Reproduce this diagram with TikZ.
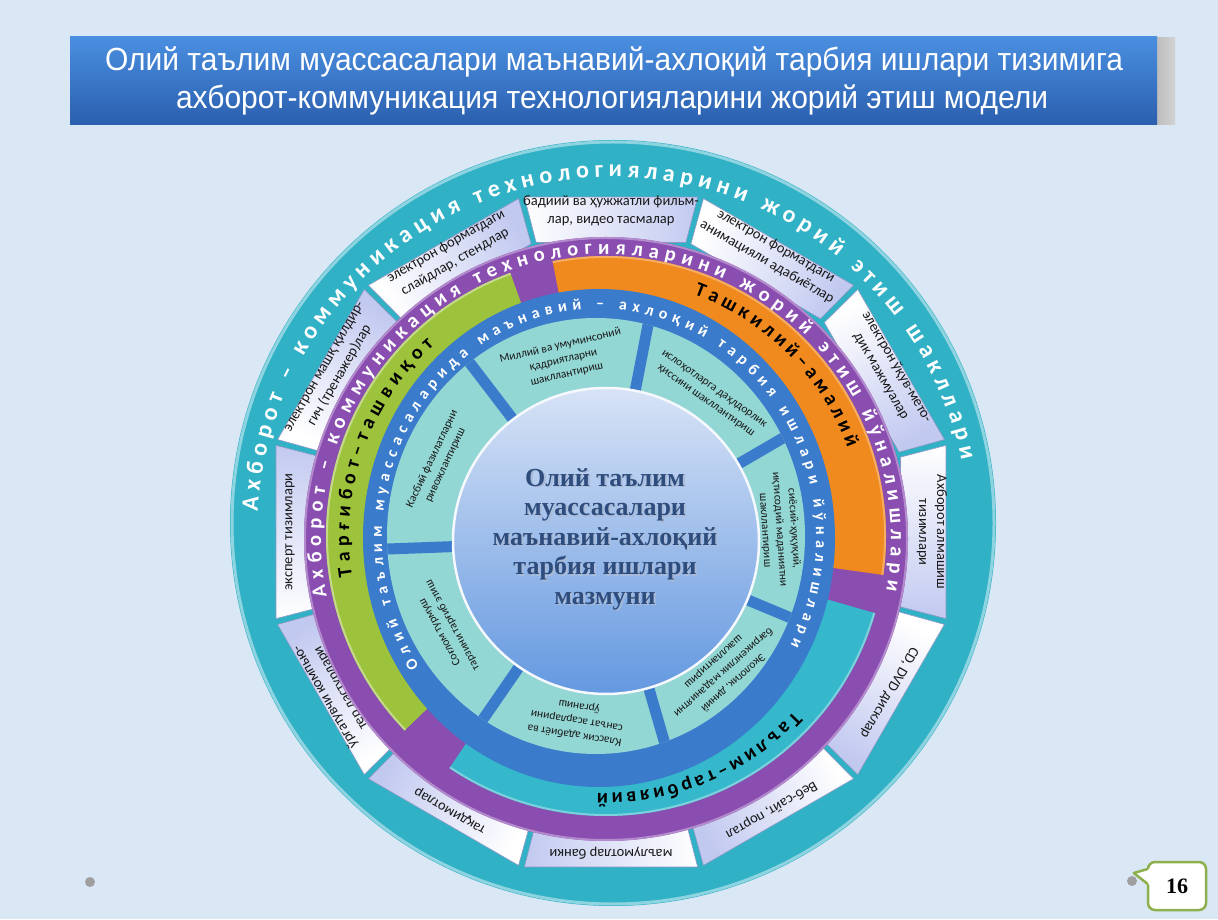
\documentclass[tikz,border=0pt]{standalone}
\usepackage{fontspec}
\setmainfont{Carlito}
\newfontfamily\titlefont{Liberation Sans}
\newfontfamily\serifbold{Liberation Serif}
\usetikzlibrary{decorations.text,calc}
\definecolor{bgc}{HTML}{DAE7F4}
\definecolor{tealO}{HTML}{31B1C6}
\definecolor{purp}{HTML}{8A4DB0}
\definecolor{grn}{HTML}{9DC23B}
\definecolor{orng}{HTML}{F08A1E}
\definecolor{tealB}{HTML}{35B8CB}
\definecolor{blu}{HTML}{3B7BCB}
\definecolor{segc}{HTML}{93D7D4}
\definecolor{ctrT}{HTML}{D8E3F6}
\definecolor{ctrB}{HTML}{6398E0}
\definecolor{boxlav}{HTML}{C2C9F0}
\definecolor{boxedge}{HTML}{8F98C4}
\definecolor{ttlT}{HTML}{4A8EE0}
\definecolor{ttlB}{HTML}{2B5FAE}
\definecolor{ctrtext}{HTML}{2E4C7C}
\definecolor{ctrshadow}{HTML}{A9BBD8}
\definecolor{pgreen}{HTML}{8DB04C}
\newcommand\outerfont{\fontsize{24}{24}\selectfont\bfseries\color{white}}
\newcommand\purpfont{\fontsize{20.5}{20.5}\selectfont\bfseries\color{white}}
\newcommand\bluefont{\fontsize{16}{16}\selectfont\bfseries\color{white}}
\newcommand\bandfont{\fontsize{20}{20}\selectfont\bfseries\color{black}}
\begin{document}
\begin{tikzpicture}[x=1pt,y=1pt,
  boxtext/.style={font=\fontsize{14.5}{18}\selectfont, align=center, text=black!90, inner sep=0pt},
  segtext/.style={font=\fontsize{11.5}{14.5}\selectfont, align=center, text=black!90, inner sep=0pt},
  spoke/.style={draw=blu, line width=11pt},
  boxshape/.style={left color=white, right color=boxlav, draw=boxedge, line width=0.6pt},
  titletext/.style={font=\titlefont\fontsize{32}{32}\selectfont, text=white, xscale=0.937, inner sep=0pt},
  dot/.style={circle, fill=gray!75, inner sep=0pt, minimum size=10pt},
]
\useasboundingbox (0,0) rectangle (1218,919);
\fill[bgc] (0,0) rectangle (1218,919);

% ---------- title bar ----------
\shade[left color=gray!60, right color=gray!35] (1148,794) rectangle (1175,881);
\shade[top color=ttlT, bottom color=ttlB] (70,794) rectangle (1157,882);
\node[titletext] (t1) at (614,857) {Олий таълим муассасалари маънавий-ахлоқий тарбия ишлари тизимига};
\node[titletext] (t2) at (612,819) {ахборот-коммуникация технологияларини жорий этиш модели};

% ---------- centres ----------
\coordinate (Oout) at (613,396);
\coordinate (Otx) at (613,386);
\coordinate (Obox) at (611,387);
\coordinate (Opur) at (606,380);
\coordinate (Oband) at (606,383);
\coordinate (Oblue) at (599,381);
\coordinate (Oseg) at (596,383);
\coordinate (Octr) at (606,378);

% ---------- outer ring ----------
\fill[tealO] (Oout) circle[radius=383pt];
\draw[white!45!tealO, line width=3pt] (Oout) circle[radius=381pt];
\path[decorate,decoration={text along path,
  text={|\outerfont|Ахборот – коммуникация технологияларини жорий этиш шакллари},
  text align={fit to path}}]
  ($(Otx)+(176.5:356pt)$) arc[start angle=176.5,end angle=11.8,radius=356pt];

% ---------- boxes ----------
\foreach \bang/\btxt in {
  180/{эксперт тизимлари},
  150/{электрон машқ қилдир-\\гич (тренажер)лар},
  120/{электрон форматдаги\\слайдлар, стендлар},
  90/{бадиий ва ҳужжатли фильм-\\лар, видео тасмалар},
  60/{электрон форматдаги\\анимацияли адабиётлар},
  30/{электрон ўқув-мето-\\дик мажмуалар},
  0/{Ахборот алмашиш\\тизимлари},
  -30/{CD, DVD дисклар},
  -60/{Веб-сайт, портал},
  -90/{маълумотлар банки},
  -120/{тақдимотлар},
  -150/{ўргатувчи компью-\\тер дастурлари}}{
  \path[boxshape, shading angle=\bang]
    ($(Obox)+({\bang-14.5}:299pt)$) -- ($(Obox)+({\bang-14.5}:346pt)$) --
    ($(Obox)+({\bang+14.5}:346pt)$) -- ($(Obox)+({\bang+14.5}:299pt)$) -- cycle;
  \node[boxtext, rotate=\bang-90] (b\bang) at ($(Obox)+(\bang:321pt)$) {\btxt};
}

% ---------- purple ring ----------
\fill[purp] (Opur) circle[radius=302pt];
\draw[white!35!purp, line width=2pt] (Opur) circle[radius=301pt];
\path[decorate,decoration={text along path,
  text={|\purpfont|Ахборот – коммуникация технологияларини жорий этиш йўналишлари},
  text align={fit to path}}]
  ($(Opur)+(191.6:285pt)$) arc[start angle=191.6,end angle=-10.4,radius=285pt];

% ---------- coloured bands ----------
\fill[grn] (Oband) -- ($(Oband)+(110:280pt)$) arc[start angle=110,end angle=224,radius=280pt] -- cycle;
\fill[orng] (Oband) -- ($(Oband)+(101:280pt)$) arc[start angle=101,end angle=-8,radius=280pt] -- cycle;
\fill[tealB] (Oband) -- ($(Oband)+(-16:280pt)$) arc[start angle=-16,end angle=-124,radius=280pt] -- cycle;
\draw[white!40!grn, line width=2pt] ($(Oband)+(110:279pt)$) arc[start angle=110,end angle=224,radius=279pt];
\draw[white!30!orng, line width=2pt] ($(Oband)+(101:279pt)$) arc[start angle=101,end angle=-8,radius=279pt];
\draw[white!35!tealB, line width=2pt] ($(Oband)+(-16:279pt)$) arc[start angle=-16,end angle=-124,radius=279pt];
\path[decorate,decoration={text along path,text={|\bandfont|Тарғибот–ташвиқот},text align={fit to path}}]
  ($(Oband)+(189:257pt)$) arc[start angle=189,end angle=132,radius=257pt];
\path[decorate,decoration={text along path,text={|\bandfont|Ташкилий–амалий},text align={fit to path}}]
  ($(Oband)+(70:257pt)$) arc[start angle=70,end angle=20,radius=257pt];
\path[decorate,decoration={text along path,text={|\bandfont|Таълим–тарбиявий},text align={fit to path}}]
  ($(Oband)+(-43:257pt)$) arc[start angle=-43,end angle=-92,radius=257pt];

% ---------- blue ring ----------
\fill[blu] (Oblue) ellipse[x radius=236pt,y radius=249pt];
\path[decorate,decoration={text along path,
  text={|\bluefont|Олий таълим муассасаларида маънавий – ахлоқий тарбия ишлари йўналишлари},
  text align={fit to path}}]
  ($(Oblue)+(214:217pt and 229pt)$) arc[start angle=214,end angle=-28,x radius=217pt,y radius=229pt];

% ---------- segments ----------
\fill[segc] (Oseg) ellipse[x radius=209pt,y radius=218pt];
\begin{scope}
  \clip (Oseg) ellipse[x radius=209pt,y radius=218pt];
  \foreach \s in {127.4,79,30.2,-22.6,-73.8,-124.6,-177.9}
    \draw[spoke] (Octr) -- ++(\s:300pt);
\end{scope}

% ---------- centre disc ----------
\shade[top color=ctrT, bottom color=ctrB] (Octr) circle[radius=154pt];
\draw[white!75!ctrT, line width=2.5pt] (Octr) circle[radius=153pt];

\node[segtext, rotate=13.2] (s1) at ($(Octr)+(103.2:186pt)$) {Миллий ва умуминсоний\\қадриятларни\\шакллантириш};
\node[segtext, rotate=-35.4] (s2) at ($(Octr)+(54.6:179pt)$) {ислоҳотларга даҳлдорлик\\ҳиссини шакллантириш};
\node[segtext, rotate=-86.2] (s3) at ($(Octr)+(3.8:174pt)$) {сиёсий-ҳуқуқий,\\иқтисодий маданиятни\\шакллантириш};
\node[segtext, rotate=-138.2] (s4) at ($(Octr)+(-48.2:176pt)$) {Экологик, диний\\бағрикенглик маданиятни\\шакллантириш};
\node[segtext, rotate=-189.2] (s5) at ($(Octr)+(-99.2:182pt)$) {Классик адабиёт ва\\санъат асарларини\\ўрганиш};
\node[segtext, rotate=-241.25] (s6) at ($(Octr)+(-151.25:182pt)$) {Соғлом турмуш\\тарзини тарғиб этиш};
\node[segtext, rotate=64.75] (s7) at ($(Octr)+(154.75:185pt)$) {Касбий фазилатларни\\ривожлантириш};

\node[font=\serifbold\bfseries\fontsize{26}{29.5}\selectfont, text=ctrshadow, align=center] (ctrsh) at (607,378.5)
  {Олий таълим\\муассасалари\\маънавий-ахлоқий\\тарбия ишлари\\мазмуни};
\node[font=\serifbold\bfseries\fontsize{26}{29.5}\selectfont, text=ctrtext, align=center] (ctr) at (605,380)
  {Олий таълим\\муассасалари\\маънавий-ахлоқий\\тарбия ишлари\\мазмуни};

% ---------- footer ----------
\node[dot] (d1) at (90,37) {};
\node[dot] (d2) at (1132,38) {};
\node[draw=pgreen, line width=2.5pt, fill=white, rounded corners=7pt, minimum width=58pt, minimum height=48pt,
  font=\serifbold\bfseries\fontsize{22}{22}\selectfont] (pg) at (1177,33) {16};
\fill[white] ($(pg.west)+(-13,13)$) -- ($(pg.west)+(3,17)$) -- ($(pg.west)+(3,1)$) -- cycle;
\draw[pgreen, line width=2.5pt, line join=round] ($(pg.west)+(1,17)$) -- ($(pg.west)+(-13,13)$) -- ($(pg.west)+(1,2)$);
\end{tikzpicture}
\end{document}
